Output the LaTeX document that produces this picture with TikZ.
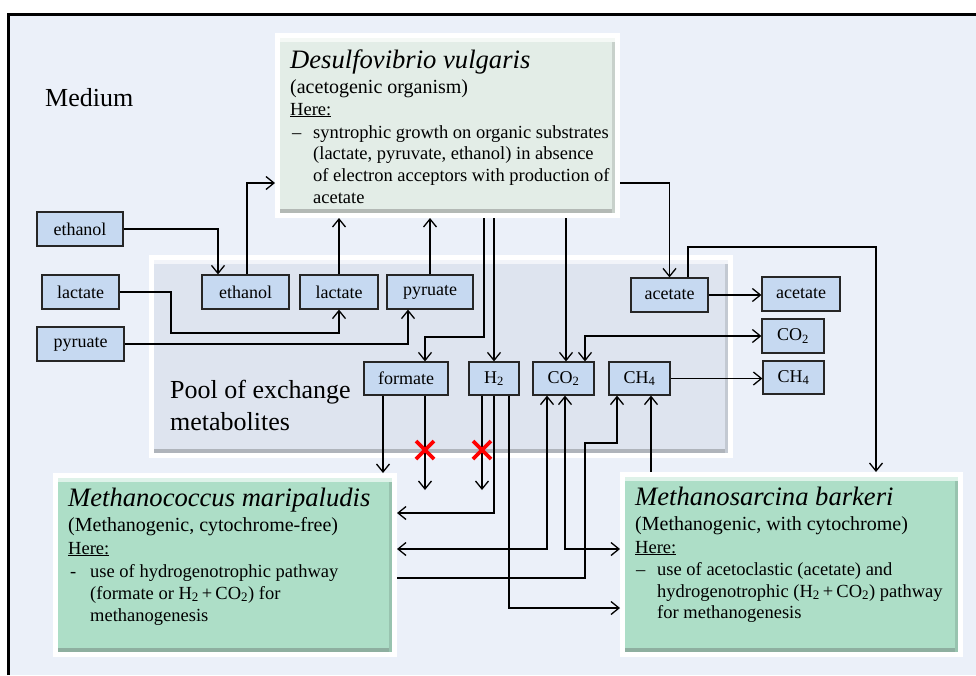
\documentclass[tikz,border=0pt]{standalone}
\usepackage{fontspec}
\setmainfont{Liberation Serif}
\usetikzlibrary{arrows.meta,shadows}
\definecolor{bgc}{HTML}{EBF0F9}
\definecolor{dfill}{HTML}{E3EDE7}
\definecolor{poolfill}{HTML}{DEE4EF}
\definecolor{grn}{HTML}{ADDEC7}
\definecolor{sblue}{HTML}{C6D9F1}
\newcommand\bodyf{\fontsize{18.5}{22}\selectfont}
\newcommand\subf{\fontsize{20}{22}\selectfont}
\newcommand\titf{\fontsize{26.6}{30}\selectfont\itshape}
\newcommand\lblf{\fontsize{18}{20}\selectfont}
\newcommand\bigf{\fontsize{26}{28}\selectfont}
\tikzset{
  conn/.style={draw, line width=1.3pt, -{Straight Barb[length=8pt,width=13pt]}},
  conntwo/.style={draw, line width=1.3pt, {Straight Barb[length=8pt,width=13pt]}-{Straight Barb[length=8pt,width=13pt]}},
  sbox/.style={draw=black!85, fill=sblue, line width=1.2pt, minimum height=34pt, inner sep=0pt, font=\lblf},
  bigbox/.style={draw=white, line width=5pt, outer sep=2.5pt, inner sep=0pt, fill=#1,
    drop shadow={shadow xshift=2.5pt, shadow yshift=-2.5pt, fill=black!30, opacity=.45},
    path picture={
      \fill[#1!75!black!90] ([yshift=7pt]path picture bounding box.south west) rectangle (path picture bounding box.south east);
      \fill[#1!88!black] ([xshift=-6pt]path picture bounding box.north east) rectangle (path picture bounding box.south east);
      \fill[white!60!#1] (path picture bounding box.north west) rectangle ([yshift=-6pt]path picture bounding box.north east);
    }},
  txt/.style={anchor=base west, inner sep=0pt, font=\bodyf},
  redx/.style={draw=red, line width=3.6pt}
}
\begin{document}
\begin{tikzpicture}[x=1pt,y=-1pt]
\useasboundingbox (0,0) rectangle (976,675);
\fill[white] (0,0) rectangle (976,675);
\fill[bgc] (8.7,14.7) rectangle (976,675);
\draw[line width=3pt] (8.7,675) -- (8.7,14.7) -- (976,14.7);

% big boxes
\node[bigbox=poolfill, minimum width=579pt, minimum height=198pt] (pool) at (441,356.5) {};
\node[bigbox=dfill, minimum width=340pt, minimum height=180pt] (D) at (447.5,125.5) {};
\node[bigbox=grn, minimum width=339pt, minimum height=179pt] (MC) at (225,565) {};
\node[bigbox=grn, minimum width=338pt, minimum height=180pt] (MS) at (791.5,564.5) {};

% texts
\node[txt, font=\bigf] (medium) at (45,106) {Medium};
\node[txt, font=\bigf] (pool1) at (170,398) {Pool of exchange};
\node[txt, font=\bigf] (pool2) at (170,430) {metabolites};

\node[txt, font=\titf] (dt) at (290,68) {Desulfovibrio vulgaris};
\node[txt, font=\subf] (d1) at (290,93) {(acetogenic organism)};
\node[txt] (d2) at (290,115) {\underline{Here:}};
\node[txt] (d3a) at (292,138) {–};
\node[txt] (d3) at (313,138) {syntrophic growth on organic substrates};
\node[txt] (d4) at (313,159) {(lactate, pyruvate, ethanol) in absence};
\node[txt] (d5) at (313,181) {of electron acceptors with production of};
\node[txt] (d6) at (313,203) {acetate};

\node[txt, font=\titf] (ct) at (68,506) {Methanococcus maripaludis};
\node[txt, font=\subf] (c1) at (68,531) {(Methanogenic, cytochrome-free)};
\node[txt] (c2) at (68,554) {\underline{Here:}};
\node[txt] (c3a) at (70,577) {-};
\node[txt] (c3) at (90,577) {use of hydrogenotrophic pathway};
\node[txt] (c4) at (90,599) {(formate or H\textsubscript{2}\,+\,CO\textsubscript{2}) for};
\node[txt] (c5) at (90,621) {methanogenesis};

\node[txt, font=\titf] (st) at (635,505) {Methanosarcina barkeri};
\node[txt, font=\subf] (s1) at (635,530) {(Methanogenic, with cytochrome)};
\node[txt] (s2) at (635,553) {\underline{Here:}};
\node[txt] (s3a) at (636,575) {–};
\node[txt] (s3) at (657,575) {use of acetoclastic (acetate) and};
\node[txt] (s4) at (657,597) {hydrogenotrophic (H\textsubscript{2}\,+\,CO\textsubscript{2}) pathway};
\node[txt] (s5) at (657,618) {for methanogenesis};

% small boxes
\node[sbox, minimum width=86pt] (ethL) at (80,229) {ethanol};
\node[sbox, minimum width=77pt] (lacL) at (80.5,292) {lactate};
\node[sbox, minimum width=87pt] (pyrL) at (80.5,344) {pyruate};
\node[sbox, minimum width=87pt] (ethP) at (245.5,292) {ethanol};
\node[sbox, minimum width=78pt] (lacP) at (339,292) {lactate};
\node[sbox, minimum width=86pt] (pyrP) at (430,292) {pyruate};
\node[sbox, minimum width=77pt] (acP) at (669.5,295) {acetate};
\node[sbox, minimum width=78pt] (acO) at (801,294) {acetate};
\node[sbox, minimum width=62pt] (co2O) at (793,336) {CO\textsubscript{2}};
\node[sbox, minimum width=61pt, minimum height=33pt] (ch4O) at (793.5,377.5) {CH\textsubscript{4}};
\node[sbox, minimum width=84pt, minimum height=33pt] (form) at (406,378.5) {formate};
\node[sbox, minimum width=50pt, minimum height=33pt] (h2) at (494,378.5) {H\textsubscript{2}};
\node[sbox, minimum width=61pt, minimum height=33pt] (co2P) at (563.5,378.5) {CO\textsubscript{2}};
\node[sbox, minimum width=61pt, minimum height=33pt] (ch4P) at (639.5,378.5) {CH\textsubscript{4}};

% connectors
\draw[conn] (ethL.east) -| ([xshift=-27.5pt]ethP.north);
\draw[conn] ([xshift=1.5pt]ethP.north) |- (D.west |- 0,183);
\draw[conn] (lacP.north) -- (lacP.north |- D.south);
\draw[conn] (pyrP.north) -- (pyrP.north |- D.south);
\draw[conn] (lacL.east) -| (171,333) -| (lacP.south);
\draw[conn] (pyrL.east) -| ([xshift=-22pt]pyrP.south);
\draw[conn] (484,0 |- D.south) |- (425,337) -- (425,0 |- form.north);
\draw[conn] (h2.north |- D.south) -- (h2.north);
\draw[conn] (566,0 |- D.south) -- (566,0 |- co2P.north);
\draw[conn] (D.east |- 0,183) -| (acP.north);
\draw[conn] (acP.east) -- (acP.east -| acO.west);
\draw[conn] (688,0 |- acP.north) |- (876,247) -- (876,0 |- MS.north);
\draw[conntwo] (585,0 |- co2P.north) |- (co2O.west);
\draw[conn] (ch4P.east) -- (ch4P.east -| ch4O.west);
\draw[conn] (383,0 |- form.south) -- (383,0 |- MC.north);
\draw[conn] (425,0 |- form.south) -- (425,490);
\draw[conn] (482,0 |- h2.south) -- (482,490);
\draw[conn] (h2.south) |- (MC.east |- 0,513);
\draw[conn] (509,0 |- h2.south) |- (MS.west |- 0,608);
\draw[conntwo] (MC.east |- 0,549) -| (547,0 |- co2P.south);
\draw[conntwo] (565,0 |- co2P.south) |- (MS.west |- 0,549);
\draw[conn] (MC.east |- 0,578) -| (585,443) -| (617,0 |- ch4P.south);
\draw[conn] (651,0 |- MS.north) -- (651,0 |- ch4P.south);

% blocked marks
\coordinate (x1) at (425,450);
\coordinate (x2) at (482,450);
\foreach \c in {x1,x2}{
  \draw[redx] ([shift={(-9pt,-9pt)}]\c) -- ([shift={(9pt,9pt)}]\c);
  \draw[redx] ([shift={(-9pt,9pt)}]\c) -- ([shift={(9pt,-9pt)}]\c);
}
\end{tikzpicture}
\end{document}
